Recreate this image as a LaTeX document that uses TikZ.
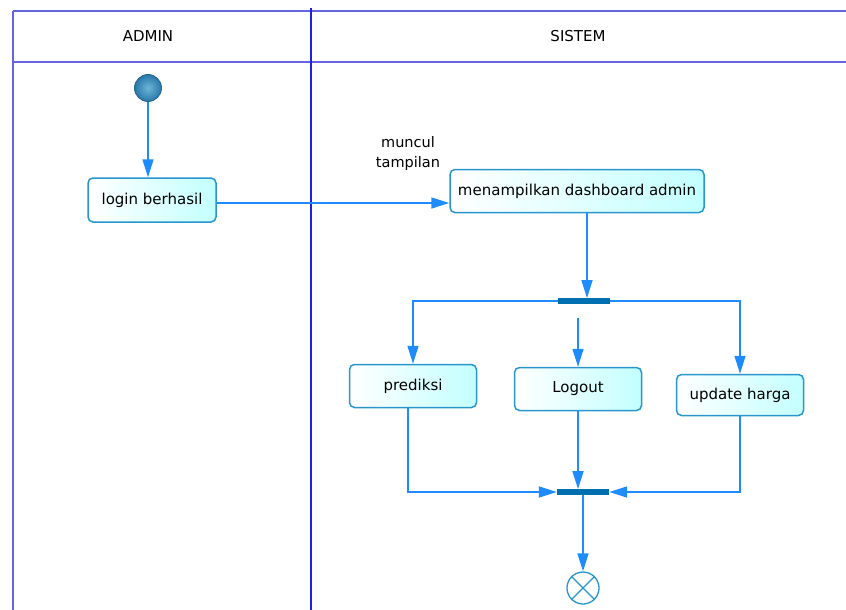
\documentclass[tikz,border=0pt]{standalone}
\usepackage{fontspec}
\setmainfont{DejaVu Sans}
\usetikzlibrary{arrows.meta,calc}
\definecolor{flow}{RGB}{30,140,255}
\definecolor{lane}{RGB}{100,100,225}
\definecolor{lanediv}{RGB}{30,30,230}
\definecolor{boxedge}{RGB}{40,150,205}
\definecolor{boxfill}{RGB}{195,255,255}
\definecolor{barfill}{RGB}{0,112,176}
\definecolor{startin}{RGB}{110,180,215}
\definecolor{startout}{RGB}{40,120,170}
\tikzset{
  x=1pt,y=-1pt,
  every node/.style={font=\fontsize{15}{18}\selectfont},
  flowline/.style={draw=flow,line width=1.6pt,-{Triangle[length=18pt,width=11pt]}},
  activity/.style={draw=boxedge,line width=1.5pt,rounded corners=5pt,
    left color=white,right color=boxfill,inner sep=0pt},
  syncbar/.style={fill=barfill,draw=none,minimum width=52pt,minimum height=5.5pt,inner sep=0pt},
  lanerule/.style={draw=lane,line width=1.5pt},
}
\begin{document}
\begin{tikzpicture}
\useasboundingbox (0,0) rectangle (846,610);

% swimlanes
\draw[lanerule] (13,11) -- (846,11);
\draw[lanerule] (13,62) -- (846,62);
\draw[lanerule] (13,11) -- (13,610);
\draw[draw=lanediv,line width=1.5pt] (311,8) -- (311,610);
\node (hadmin) at (148,36) {ADMIN};
\node (hsistem) at (578,36) {SISTEM};

% nodes
\node[circle,minimum size=27pt,inner sep=0pt,draw=startout!80!black,line width=0.8pt,
      inner color=startin,outer color=startout] (start) at (148,88) {};
\node[activity,minimum width=128pt,minimum height=44pt] (login) at (152,200) {login berhasil};
\node[activity,minimum width=254pt,minimum height=43pt] (dash) at (577,191) {menampilkan dashboard admin};
\node[align=center,font=\fontsize{14.5}{20}\selectfont] (lbl) at (408,153) {muncul\\tampilan};
\node[syncbar] (fork) at (584,301) {};
\node[activity,minimum width=127pt,minimum height=43pt] (pred) at (413,386) {prediksi};
\node[activity,minimum width=127pt,minimum height=43pt] (logout) at (578,389) {Logout};
\node[activity,minimum width=127pt,minimum height=41pt] (upd) at (740,395) {update harga};
\node[syncbar] (join) at (583,492) {};
\node[circle,minimum size=32pt,inner sep=0pt,draw=boxedge,line width=1.3pt,fill=white] (final) at (583,588) {};
\draw[boxedge,line width=1.3pt] (final.north east) -- (final.south west)
  (final.north west) -- (final.south east);

\coordinate (gap) at (578,318);

% connectors
\draw[flowline] (start) -- (start |- login.north);
\draw[flowline] (login.east |- 0,203) -- (dash.west |- 0,203);
\draw[flowline] (587,213) -- (fork.north -| 587,0);
\draw[flowline] (fork.west) -| (pred.north);
\draw[flowline] (gap) -- (logout.north);
\draw[flowline] (fork.east) -| (upd.north);
\draw[flowline] ([xshift=-5pt]pred.south) |- (join.west);
\draw[flowline] (logout.south) -- (logout.south |- join.north);
\draw[flowline] (upd.south) |- (join.east);
\draw[flowline] (join.south) -- (final.north);
\end{tikzpicture}
\end{document}
